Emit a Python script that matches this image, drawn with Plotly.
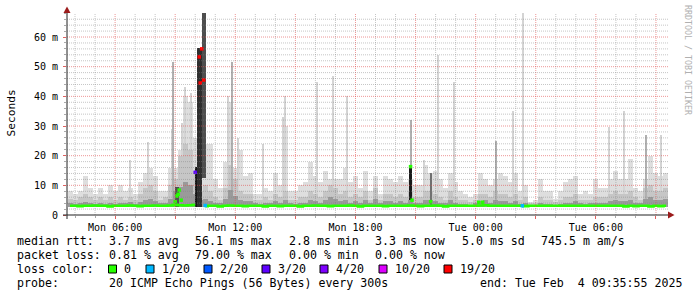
import plotly.graph_objects as go

# ---------------- data (hours since Mon 2025-02-03 00:00) ----------------
t_start, t_end = 3.6, 33.6          # Mon 03:35:55 .. Tue 09:35:55
bin_t0, bin_step = 3.75, 0.25       # 15-minute smoke bins
smoke_base = 2.8                    # ms, min rtt

# lightest smoke (max ping per bin), ms
smoke_light = [8, 7, 8, 13, 9, 7, 9, 7, 10, 8,
               10, 8, 9, 7, 11, 14, 16, 13, 8, 8,
               16, 16, 22, 40, 38, 26, 24, 24, 24, 12,
               9, 18, 38, 16, 22, 13, 14, 7, 7, 9,
               8, 14, 10, 30, 8, 8, 10, 11, 18, 13,
               11, 15, 12, 12, 12, 16, 11, 13, 9, 15,
               8, 13, 7, 13, 12, 11, 13, 11, 12, 10,
               10, 17, 14, 15, 12, 9, 14, 11, 8, 7,
               6, 7, 14, 12, 10, 12, 14, 13, 11, 14,
               8, 10, 4.5, 5, 12, 8, 8, 5.5, 8, 11,
               12, 13, 7, 8, 7, 12, 9, 9, 12, 15,
               12, 12, 19, 9, 8, 12, 20, 14, 13, 14]
# medium smoke, ms
smoke_mid = [5.5, 5, 6, 7, 6, 5, 6, 5, 6, 5,
             6, 5, 6, 5, 7, 9, 10, 8, 5, 6,
             10, 12, 20, 24, 22, 15, 8, 10, 8, 6,
             5, 9, 17, 12, 8, 7, 7, 5, 5, 6,
             5, 7, 6, 8, 5, 5, 6, 6, 8, 7,
             6, 8, 10, 9, 7, 8, 6, 7, 6, 8,
             5, 9, 5, 7, 7, 6, 7, 6, 8, 6,
             6, 8, 8, 7, 6, 5, 8, 6, 5, 5,
             4.5, 5, 7, 7, 6, 8, 7, 7, 6, 7,
             5, 6, 4, 4, 6, 5, 5, 4.5, 5, 6,
             6, 7, 5, 5, 5, 6, 6, 6, 7, 8,
             7, 7, 8, 6, 5, 9, 10, 8, 8, 9]
# dark smoke near the median, ms
smoke_dark = [3.9, 3.7, 4.2, 4.5, 4.0, 3.7, 4.1, 3.7, 4.2, 3.7,
              4.2, 3.9, 4.3, 3.7, 4.5, 5.0, 5.5, 4.6, 3.9, 4.2,
              5.5, 8.0, 9.5, 11, 10, 7.0, 5, 5.5, 4.6, 4.2,
              3.9, 5.5, 8.5, 6.5, 5.0, 4.6, 4.6, 3.9, 3.7, 4.2,
              3.9, 4.6, 4.2, 5.0, 3.9, 3.7, 4.2, 4.2, 5.0, 4.6,
              4.2, 5.0, 6.0, 5.5, 4.6, 5.0, 4.2, 4.6, 4.2, 5.0,
              3.9, 5.5, 3.9, 4.6, 4.6, 4.2, 4.6, 4.2, 5.0, 4.2,
              4.2, 5.0, 5.0, 4.6, 4.2, 3.9, 5.0, 4.2, 3.7, 3.7,
              3.5, 3.9, 4.6, 5.0, 4.2, 5.0, 4.6, 4.6, 4.2, 4.6,
              3.7, 4.2, 3.4, 3.4, 4.2, 3.7, 3.7, 3.5, 3.7, 4.2,
              4.2, 4.6, 3.9, 3.7, 3.9, 4.2, 4.2, 4.2, 4.6, 5.0,
              4.6, 4.6, 5.0, 4.2, 3.9, 5.5, 6.0, 5.0, 5.0, 5.5]
# median rtt per bin, ms (None = no median drawn)
median_rtt = [3.1, 3.1, 3.0, 3.1, 3.1, 3.2, 3.1, 3.1, 2.9, 3.1,
              3.1, 3.1, 3.2, 3.1, 3.0, 3.1, 3.1, 3.2, 3.1, 3.1,
              3.2, 3.4, 3.3, 3.2, 3.3, 3.4, None, 3.0, 3.1, 3.1,
              2.9, 3.1, 3.2, 3.1, 3.1, 3.0, 3.1, 3.1, 3.1, 2.9,
              3.1, 3.1, 3.0, 3.1, 3.1, 3.1, 2.9, 3.1, 3.1, 3.2,
              3.1, 3.1, 3.0, 3.1, 3.1, 3.1, 3.2, 3.1, 2.9, 3.1,
              3.1, 3.1, 3.1, 3.0, 3.1, 3.1, 3.1, 3.1, 3.2, 3.1,
              3.0, 3.1, 3.1, 3.2, 3.1, 2.9, 3.1, 3.1, 3.1, 3.1,
              3.1, 3.1, 3.2, 3.3, 3.1, 3.1, 3.1, 3.1, 3.1, 3.1,
              3.1, 3.0, 3.1, 3.1, 3.1, 3.1, 3.1, 3.1, 3.1, 3.1,
              3.1, 3.1, 3.1, 3.1, 3.1, 3.1, 3.1, 3.1, 3.1, 3.1,
              3.1, 2.9, 3.1, 3.0, 3.1, 3.1, 2.9, 3.1, 3.0, 3.1]

# isolated tall smoke spikes: time (h), top (ms), shade
spike_t = [6.75, 7.65, 8.85, 8.9, 9.35, 9.5, 9.8, 11.65, 11.85, 12.15,
           13.4, 14.4, 14.5, 16.1, 16.9, 17.6, 20.75, 21.4, 22.1, 22.9,
           25.0, 25.85, 26.35, 30.65, 31.4, 32.5, 33.25]
spike_top = [18.5, 24.6, 29, 51.6, 31, 43, 41, 40, 51.6, 26,
             24, 33, 40, 45, 47, 40, 32, 18.5, 54, 45,
             25, 35, 68, 29.7, 35, 27, 27]
spike_shade = ["l", "l", "l", "m", "l", "l", "l", "l", "m", "l",
               "l", "l", "l", "l", "l", "l", "m", "l", "l", "l",
               "m", "l", "l", "l", "l", "m", "l"]

# dense dark columns (outage event etc.): start, end (h), bottom, top (ms)
col_t0 = [9.0, 10.0, 10.08, 10.33, 20.71, 21.72]
col_t1 = [9.2, 10.07, 10.33, 10.52, 20.8, 21.78]
col_lo = [2.8, 2.8, 2.8, 12.5, 5.0, 2.8]
col_hi = [9.4, 16.3, 56.4, 68.0, 16.3, 14.0]
col_shade = ["#505050", "#151515", "#2e2e2e", "#4e4e4e", "#1a1a1a", "#707070"]

# median samples with packet loss info: time (h), median (ms), loss
loss_t = [9.0, 9.085, 9.15, 9.2, 9.3, 10.0, 10.2, 10.25, 10.325, 10.425,
          10.5, 20.75, 20.825, 21.75, 24.15, 24.35, 26.33]
loss_v = [4.5, 6.4, 7.0, 8.4, 5.0, 14.4, 53.3, 44.5, 56.0, 45.5,
          3.2, 16.3, 5.0, 4.5, 4.3, 4.3, 3.1]
loss_lvl = ["0", "0", "0", "0", "0", "3/20", "19/20", "19/20", "19/20", "19/20",
            "1/20", "0", "0", "0", "0", "0", "1/20"]

loss_levels = ["0", "1/20", "2/20", "3/20", "4/20", "10/20", "19/20"]
loss_colors = ["#26ff00", "#00b8ff", "#0059ff", "#5e00ff", "#7e00ff", "#dd00ff", "#ff0000"]

x_tick_vals = [6, 9, 12, 15, 18, 21, 24, 27, 30, 33]
x_tick_text = ["Mon 06:00", "", "Mon 12:00", "", "Mon 18:00", "",
               "Tue 00:00", "", "Tue 06:00", ""]
y_tick_vals = [0, 10, 20, 30, 40, 50, 60]
y_tick_text = ["0", "10 m", "20 m", "30 m", "40 m", "50 m", "60 m"]
y_max = 68.1

stats_rows = [
    ["median rtt:", "3.7 ms avg", "56.1 ms max", "2.8 ms min", "3.3 ms now", "5.0 ms sd", "745.5 m am/s"],
    ["packet loss:", "0.81 % avg", "79.00 % max", "0.00 % min", "0.00 % now"],
]
probe_text = "20 ICMP Echo Pings (56 Bytes) every 300s"
end_text = "end: Tue Feb\u00a0\u00a04 09:35:55 2025"

# ---------------- figure ----------------
W, H = 697, 297
ML, MR, MT, MB = 67, 29, 13, 82
PW, PH = W - ML - MR, H - MT - MB


def px2x(px):
    return (px - ML) / PW


def py2y(py):
    return (H - MB - py) / PH


MONO = "DejaVu Sans Mono"
bin_t = [bin_t0 + i * bin_step for i in range(len(smoke_light))]

fig = go.Figure()


def add_bars(x, lo, hi, width, color):
    fig.add_trace(go.Bar(
        x=x, y=[h - l for h, l in zip(hi, lo)], base=lo, width=width,
        marker=dict(color=color, line=dict(width=0)),
        hoverinfo="skip", showlegend=False))


base_arr = [smoke_base] * len(bin_t)
add_bars(bin_t, base_arr, smoke_light, bin_step, "#dedede")
lt = [t for t, s in zip(spike_t, spike_shade) if s == "l"]
lh = [h for h, s in zip(spike_top, spike_shade) if s == "l"]
add_bars(lt, [smoke_base] * len(lt), lh, 0.1, "#d4d4d4")
add_bars(bin_t, base_arr, smoke_mid, bin_step, "#c6c6c6")
mt = [t for t, s in zip(spike_t, spike_shade) if s == "m"]
mh = [h for h, s in zip(spike_top, spike_shade) if s == "m"]
add_bars(mt, [smoke_base] * len(mt), mh, 0.1, "#b0b0b0")
add_bars(bin_t, base_arr, smoke_dark, bin_step, "#9a9a9a")
for a, b, lo, hi, c in zip(col_t0, col_t1, col_lo, col_hi, col_shade):
    add_bars([(a + b) / 2], [lo], [hi], b - a, c)

fig.add_trace(go.Scatter(
    x=bin_t, y=median_rtt, mode="lines", line=dict(color="#26ff00", width=2.6, shape="hvh"),
    connectgaps=False, hoverinfo="skip", showlegend=False))
cmap = dict(zip(loss_levels, loss_colors))
fig.add_trace(go.Scatter(
    x=loss_t, y=loss_v, mode="markers",
    marker=dict(symbol="square", size=3.5, color=[cmap[l] for l in loss_lvl], line=dict(width=0)),
    hoverinfo="skip", showlegend=False))

shapes = []
# grid on top of the graph (rrdtool style)
for h in range(4, 34):
    major = h % 3 == 0
    shapes.append(dict(type="line", xref="x", yref="paper", x0=h, x1=h, y0=0, y1=1,
                       line=dict(color="rgba(225,80,80,0.6)" if major else "rgba(128,128,128,0.45)",
                                 width=1, dash="1px,1px"), layer="above"))
for v in range(2, 68, 2):
    major = v % 10 == 0
    shapes.append(dict(type="line", xref="paper", yref="y", x0=0, x1=1, y0=v, y1=v,
                       line=dict(color="rgba(225,80,80,0.6)" if major else "rgba(128,128,128,0.45)",
                                 width=1, dash="1px,1px"), layer="above"))
# axes + arrows
shapes.append(dict(type="line", xref="paper", yref="paper", x0=px2x(63), x1=px2x(670),
                   y0=py2y(215), y1=py2y(215), line=dict(color="#222", width=1), layer="above"))
shapes.append(dict(type="line", xref="paper", yref="paper", x0=px2x(67), x1=px2x(67),
                   y0=py2y(219), y1=py2y(11), line=dict(color="#222", width=1), layer="above"))
shapes.append(dict(type="path", xref="paper", yref="paper", layer="above",
                   path=f"M{px2x(668)},{py2y(211.5)} L{px2x(674.5)},{py2y(215)} L{px2x(668)},{py2y(218.5)} Z",
                   fillcolor="#9b1b1b", line=dict(width=0)))
shapes.append(dict(type="path", xref="paper", yref="paper", layer="above",
                   path=f"M{px2x(63.5)},{py2y(13)} L{px2x(67)},{py2y(6.5)} L{px2x(70.5)},{py2y(13)} Z",
                   fillcolor="#9b1b1b", line=dict(width=0)))

annotations = []


def txt(px, py, s, size=11.6, anchor="left", color="#000", angle=0, family=MONO):
    annotations.append(dict(xref="paper", yref="paper", x=px2x(px), y=py2y(py), text=s,
                            showarrow=False, xanchor=anchor, yanchor="middle", textangle=angle,
                            borderpad=0, font=dict(family=family, size=size, color=color)))


col_x = [16, 108, 194, 288, 374, 461, 540]
for r, row in enumerate(stats_rows):
    for cx, s in zip(col_x, row):
        txt(cx, 241 + 14 * r, s)

txt(16, 269, "loss color:")
box_x = [108.5, 146, 204, 262, 320, 379, 444]
for bx, lvl, c in zip(box_x, loss_levels, loss_colors):
    shapes.append(dict(type="rect", xref="paper", yref="paper", x0=px2x(bx), x1=px2x(bx + 8),
                       y0=py2y(273), y1=py2y(265), fillcolor=c, line=dict(color="#000", width=1)))
    txt(bx + 14.5, 269, lvl)

txt(16, 283, "probe:")
txt(108, 283, probe_text)
txt(683, 283, end_text, anchor="right")

txt(11, 113.5, "Seconds", size=11.2, anchor="center", angle=-90)
txt(688, 60, "RRDTOOL / TOBI OETIKER", size=8.3, anchor="center", angle=90, color="#b0b0b0")

fig.update_layout(
    width=W, height=H, autosize=False,
    margin=dict(l=ML, r=MR, t=MT, b=MB, pad=0),
    paper_bgcolor="white", plot_bgcolor="white",
    barmode="overlay", bargap=0, showlegend=False,
    shapes=shapes, annotations=annotations,
    font=dict(family=MONO, size=10, color="#000"),
    xaxis=dict(range=[t_start, t_end], showgrid=False, zeroline=False, showline=False,
               tickmode="array", tickvals=x_tick_vals, ticktext=x_tick_text,
               ticks="outside", ticklen=3, tickcolor="#e06060", tickwidth=1,
               minor=dict(dtick=1, tick0=0, ticks="outside", ticklen=2, tickcolor="#aaaaaa"),
               tickfont=dict(family=MONO, size=10, color="#000"), fixedrange=True),
    yaxis=dict(range=[0, y_max], showgrid=False, zeroline=False, showline=False,
               tickmode="array", tickvals=y_tick_vals, ticktext=y_tick_text,
               ticks="outside", ticklen=3, tickcolor="#e06060", tickwidth=1,
               minor=dict(dtick=2, tick0=0, ticks="outside", ticklen=2, tickcolor="#aaaaaa"),
               ticklabelstandoff=3,
               tickfont=dict(family=MONO, size=10, color="#000"), fixedrange=True),
)

fig.write_html("out.html")
